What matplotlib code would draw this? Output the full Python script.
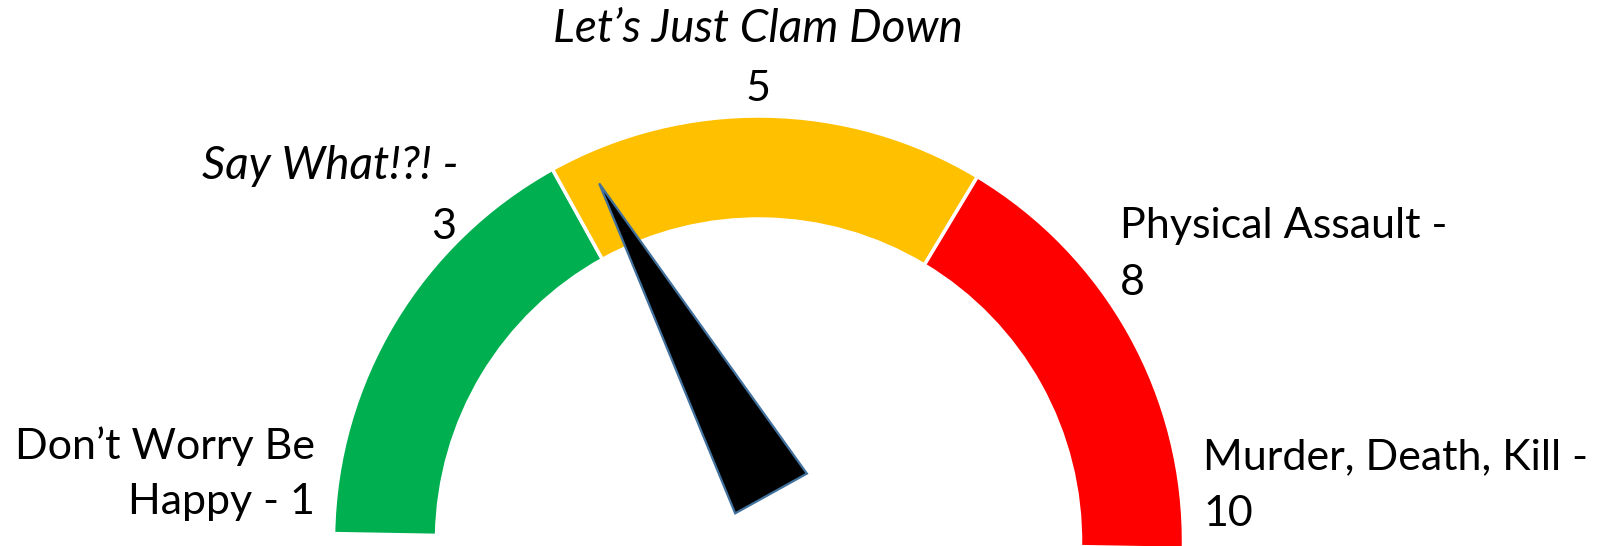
import numpy as np
import matplotlib
matplotlib.use('Agg')
import matplotlib.pyplot as plt
from matplotlib.patches import Polygon

# gauge data: three equal bands over the upper half, plus a hidden half
band_names = ['Green', 'Yellow', 'Red', 'Hidden']
band_sizes = [1, 1, 1, 3]
band_colors = ['#00B050', '#FFC000', '#FF0000', 'white']

# scale labels and where they sit on the dial (degrees)
scale_values = [1, 3, 5, 8, 10]
scale_angles = [180, 120, 90, 60, 0]
needle_value = 3
tilt = -1  # whole dial is turned a hair clockwise

plt.rcParams['font.family'] = ['Lato', 'DejaVu Sans']

fig = plt.figure(figsize=(16.01, 5.46), dpi=100)
ax = fig.add_axes([0, 0, 1, 1])

# pixel-like frame with the dial centre at the origin
cx, cy = 758.5, 541
def px(x, y):
    return x - cx, cy - y

R_out, ring = 425, 103
wedges, _ = ax.pie(band_sizes, colors=band_colors, radius=R_out, center=(0, 0),
                   startangle=180 + tilt, counterclock=False,
                   wedgeprops=dict(width=ring, edgecolor='white', linewidth=2.5))
wedges[-1].set_visible(False)

# needle
ang = np.radians(np.interp(needle_value, scale_values, scale_angles) + tilt)
u = np.array([np.cos(ang), np.sin(ang)])
n = np.array([u[1], -u[0]])
off, base, tip, half = 34, 35.5, 390, 41
pts = [tip * u + off * n, base * u + (off + half) * n, base * u + (off - half) * n]
ax.add_patch(Polygon(pts, closed=True, facecolor='black', edgecolor='#41719C',
                     linewidth=1.6, zorder=5))

fs = 31   # upright labels
fsi = 33  # italic labels
ax.text(*px(758, 29), 'Let\u2019s Just Clam Down', fontsize=fsi, style='italic',
        ha='center', va='center')
ax.text(*px(758, 89), '5', fontsize=fs, ha='center', va='center')
ax.text(*px(459, 166), 'Say What!?! -', fontsize=fsi, style='italic', ha='right', va='center')
ax.text(*px(456, 227), '3', fontsize=fs, ha='right', va='center')
ax.text(*px(1120, 226), 'Physical Assault -', fontsize=fs, ha='left', va='center')
ax.text(*px(1120, 283), '8', fontsize=fs, ha='left', va='center')
ax.text(*px(315, 446), 'Don\u2019t Worry Be', fontsize=fs, ha='right', va='center')
ax.text(*px(315, 502), 'Happy - 1', fontsize=fs, ha='right', va='center')
ax.text(*px(1203, 457), 'Murder, Death, Kill -', fontsize=fs, ha='left', va='center')
ax.text(*px(1203, 514), '10', fontsize=fs, ha='left', va='center')

ax.set_xlim(-cx, 1601 - cx)
ax.set_ylim(cy - 546, cy)
ax.set_aspect('auto')
ax.axis('off')

fig.savefig('out.png', dpi=100)
